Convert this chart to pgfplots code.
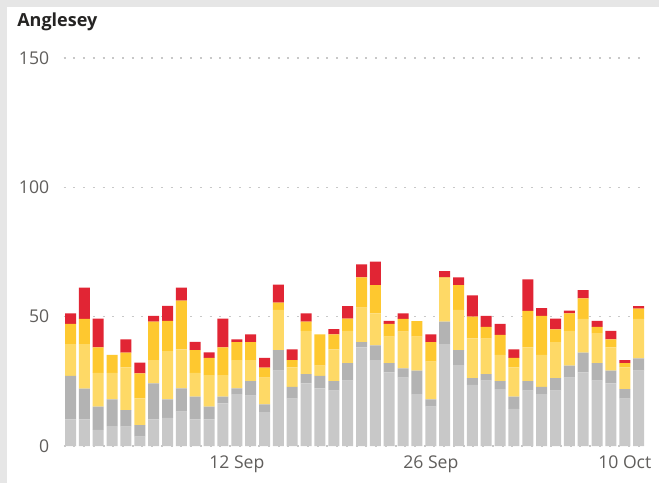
\documentclass[border=0pt]{standalone}
\usepackage{fontspec}
\setmainfont{Open Sans}
\usepackage{pgfplots}
\usepackage{pgfplotstable}
\pgfplotsset{compat=1.18}

\definecolor{cLg}{RGB}{200,200,200}
\definecolor{cDg}{RGB}{179,179,179}
\definecolor{cLy}{RGB}{254,217,102}
\definecolor{cGold}{RGB}{254,200,47}
\definecolor{cRed}{RGB}{225,37,52}
\definecolor{cFrame}{RGB}{230,230,230}
\definecolor{cGrid}{RGB}{200,200,200}
\definecolor{cTick}{RGB}{96,94,92}
\definecolor{cTitle}{RGB}{37,36,35}

% day index (0 = 31 Aug), five stacked groups bottom to top
\pgfplotstableread{
idx lg   dg   ly   gold red
0   10.3 16.8 12.3 7.8  4.1
1   10.3 11.9 17.2 9.7  12.1
2   6.2  9.0  13.1 9.8  11.1
3   7.7  10.3 10.3 6.9  0
4   7.5  6.4  16.5 5.7  5.1
5   3.6  4.5  10.3 9.7  4.1
6   10.3 13.9 9.0  14.9 2.2
7   10.9 7.1  18.7 11.7 5.8
8   13.3 9.0  15.1 18.8 5.0
9   10.3 8.8  9.2  8.8  3.2
10  10.3 4.9  12.2 6.7  2.1
11  16.5 2.6  8.3  10.7 11.1
12  20.1 2.2  10.9 7.0  1.0
13  19.5 5.6  8.1  7.0  3.0
14  13.1 3.0  10.3 3.9  3.8
15  29.1 8.0  15.5 2.8  7.0
16  18.3 4.6  7.5  2.8  4.2
17  24.2 3.6  16.7 3.6  3.2
18  22.3 4.8  4.0  12.1 0
19  21.4 3.7  12.3 5.8  2.0
20  25.3 6.7  12.5 4.7  4.9
21  38.1 2.1  13.3 11.7 5.0
22  33.2 5.7  12.4 10.9 9.1
23  28.5 3.5  10.3 4.9  1.2
24  26.4 3.6  14.2 4.9  2.2
25  20.1 9.0  13.2 6.0  0
26  15.2 2.8  14.6 7.6  3.0
27  39.4 8.7  16.6 0.5  2.4
28  31.3 5.8  15.5 9.6  3.0
29  23.6 2.6  15.4 8.4  8.2
30  25.3 2.5  13.7 4.6  4.2
31  22.0 3.1  10.1 7.8  4.2
32  14.4 4.7  11.3 3.7  3.3
33  21.4 3.7  13.0 14.1 12.2
34  20.1 2.8  12.3 15.1 3.0
35  21.4 4.8  14.0 4.9  4.1
36  26.4 4.7  13.4 6.8  1.0
37  28.5 7.6  13.0 8.0  3.2
38  25.3 6.7  11.6 2.5  2.3
39  24.2 4.9  9.0  3.1  3.3
40  18.3 3.7  8.4  1.6  1.2
41  29.1 4.8  15.2 4.0  1.0
}\anglesey

\begin{document}
\begin{tikzpicture}
\fill[cFrame] (0,0) rectangle (494.25pt,362.25pt);
\fill[white] (5.25pt,0) rectangle (494.25pt,357pt);
\node[anchor=base west, inner sep=0, text=cTitle,
      font=\fontsize{13.5}{16}\selectfont\bfseries] at (12.75pt,342pt) {Anglesey};
\begin{axis}[
    at={(47.7pt,27.75pt)}, anchor=south west,
    scale only axis,
    width=436.5pt, height=291pt,
    ybar stacked,
    bar width=8.25pt,
    xmin=-0.5, xmax=41.5,
    ymin=0, ymax=150,
    xtick={12,26,40},
    xticklabels={12 Sep,26 Sep,10 Oct},
    ytick={0,50,100,150},
    axis line style={draw=none},
    tick style={draw=none},
    ymajorgrids,
    grid style={cGrid, line width=1pt, dash pattern=on 1.5pt off 5.8pt},
    ticklabel style={font=\fontsize{13.2}{15}\selectfont, text=cTick},
    /pgf/number format/assume math mode=true,
    yticklabel style={xshift=-7.3pt},
    xticklabel style={yshift=-4pt},
    clip=false,
]
\addplot[fill=cLg, draw=none] table[x=idx, y=lg] {\anglesey};
\addplot[fill=cDg, draw=none] table[x=idx, y=dg] {\anglesey};
\addplot[fill=cLy, draw=none] table[x=idx, y=ly] {\anglesey};
\addplot[fill=cGold, draw=none] table[x=idx, y=gold] {\anglesey};
\addplot[fill=cRed, draw=none] table[x=idx, y=red] {\anglesey};
\end{axis}
\pgfresetboundingbox
\useasboundingbox (0,0) rectangle (494.25pt,362.25pt);
\end{tikzpicture}
\end{document}
